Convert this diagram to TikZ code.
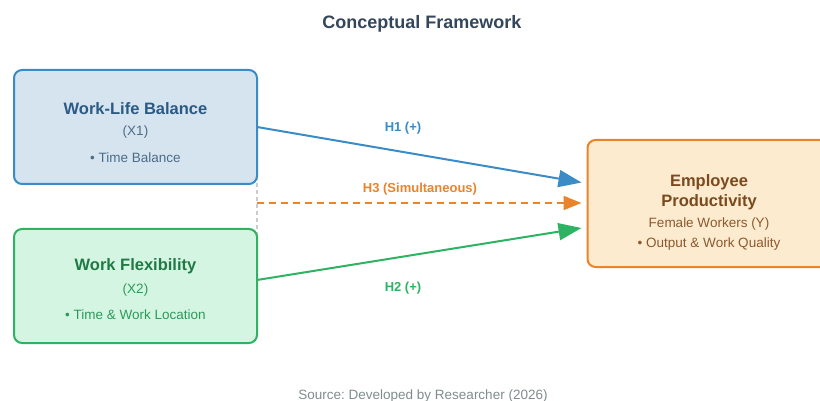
\documentclass[tikz,border=0pt]{standalone}
\usepackage{fontspec}
\setmainfont{Liberation Sans}
\usetikzlibrary{arrows.meta}

\definecolor{titlecol}{HTML}{34465C}
\definecolor{blueline}{HTML}{3A8BC6}
\definecolor{bluefill}{HTML}{D6E4F0}
\definecolor{bluetext}{HTML}{2B5A84}
\definecolor{bluesub}{HTML}{4C6C88}
\definecolor{greenline}{HTML}{2EB362}
\definecolor{greenfill}{HTML}{D5F5E3}
\definecolor{greentext}{HTML}{1F7A45}
\definecolor{greensub}{HTML}{2E9A58}
\definecolor{orangeline}{HTML}{E8842C}
\definecolor{orangefill}{HTML}{FDEBD0}
\definecolor{browntext}{HTML}{7A4A1E}
\definecolor{brownsub}{HTML}{8A5A2E}
\definecolor{sourcecol}{HTML}{7F8C8D}

\tikzset{
  varbox/.style={draw, line width=2pt, rounded corners=8pt, minimum width=243pt},
  headtext/.style={font=\fontsize{16.5}{20}\selectfont\bfseries, align=center},
  subtext/.style={font=\fontsize{13.5}{16}\selectfont},
  hyplabel/.style={font=\fontsize{13}{15}\selectfont\bfseries},
  hyparrow/.style={line width=2pt, -{Triangle[length=23pt,width=17pt]}}
}

\begin{document}
\begin{tikzpicture}[x=1pt,y=-1pt]
    \clip (0,0) rectangle (820,401);

    % title
    \node[font=\fontsize{18}{21}\selectfont\bfseries, text=titlecol] (title) at (422,24) {Conceptual Framework};

    % joint link between the two predictors
    \coordinate (top) at (257,127);
    \coordinate (bot) at (257,280);
    \draw[gray!40, line width=1.5pt, dash pattern=on 4pt off 3pt] (top) -- (bot);

    % predictor and outcome boxes
    \node[varbox, draw=blueline, fill=bluefill, minimum height=114pt] (wlb) at (135.5,127) {};
    \node[varbox, draw=greenline, fill=greenfill, minimum height=114pt] (flex) at (135.5,286) {};
    \node[varbox, draw=orangeline, fill=orangefill, minimum height=127pt] (prod) at (709,203.5) {};

    \node[headtext, text=bluetext] (wlbname) at (135.5,108.5) {Work-Life Balance};
    \node[subtext, text=bluesub] (wlbvar) at (135.5,132) {(X1)};
    \node[subtext, text=bluesub] (wlbind) at (135.5,158) {\textbullet\ Time Balance};

    \node[headtext, text=greentext] (flexname) at (135.5,266.5) {Work Flexibility};
    \node[subtext, text=greensub] (flexvar) at (135.5,290) {(X2)};
    \node[subtext, text=greensub] (flexind) at (135.5,315) {\textbullet\ Time \& Work Location};

    \node[headtext, text=browntext] (prodname) at (709,192) {Employee\\Productivity};
    \node[subtext, text=brownsub] (prodvar) at (709,224) {Female Workers (Y)};
    \node[subtext, text=brownsub] (prodind) at (709,244) {\textbullet\ Output \& Work Quality};

    % hypotheses
    \coordinate (mid) at (257,203);
    \draw[hyparrow, blueline] (top) -- ([xshift=-5pt,yshift=21pt]prod.west);
    \draw[hyparrow, greenline] (bot) -- ([xshift=-5pt,yshift=-24.5pt]prod.west);
    \draw[orangeline, line width=2pt, dash pattern=on 7pt off 5pt, -{Triangle[length=18pt,width=14pt]}] (mid) -- ([xshift=-5pt]mid -| prod.west);

    \node[hyplabel, text=blueline] (h1) at (403,128) {H1 (+)};
    \node[hyplabel, text=orangeline] (h3) at (420,189) {H3 (Simultaneous)};
    \node[hyplabel, text=greenline] (h2) at (403,288) {H2 (+)};

    % source note
    \node[subtext, text=sourcecol] (source) at (423,396) {Source:\ Developed by Researcher (2026)};
\end{tikzpicture}
\end{document}
